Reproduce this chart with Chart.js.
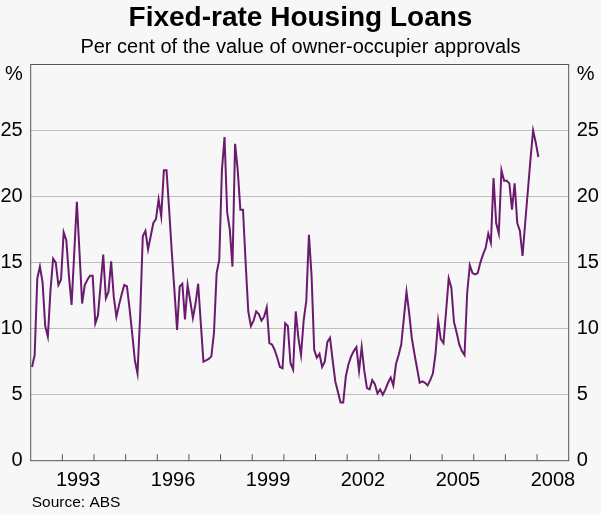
<!DOCTYPE html>
<html>
<head>
<meta charset="utf-8">
<title>Fixed-rate Housing Loans</title>
<script src="https://cdn.jsdelivr.net/npm/chart.js@4.4.1/dist/chart.umd.min.js"></script>
<style>
  html, body { margin: 0; padding: 0; background: #f7f7f7; }
  #chart_fixedRate { display: block; }
</style>
</head>
<body>
<canvas id="chart_fixedRate" width="601" height="515"></canvas>
<script>
// monthly series, first value is January 1992
const startYear = 1992;
const axisYears = [1992, 2009];
const yearLabels = [1993, 1996, 1999, 2002, 2005, 2008];
const yTicks = [0, 5, 10, 15, 20, 25];
const fixedShare = [
  7.1, 8.0, 13.8, 14.7, 13.5, 10.2, 9.4, 12.9, 15.3, 15.0, 13.3, 13.7,        // 1992
  17.3, 16.7, 14.0, 11.8, 15.7, 19.6, 15.8, 11.9, 13.3, 13.7, 14.0, 14.0,     // 1993
  10.4, 11.0, 13.3, 15.6, 12.3, 12.8, 15.1, 12.4, 10.9, 11.8, 12.6, 13.3,     // 1994
  13.2, 11.5, 9.6, 7.6, 6.6, 11.0, 17.0, 17.4, 16.0, 17.0, 18.0, 18.3,        // 1995
  19.8, 18.5, 22.0, 22.0, 19.0, 15.8, 12.9, 9.9, 13.2, 13.4, 10.7, 13.3,      // 1996
  12.1, 10.8, 11.9, 13.4, 10.4, 7.5, 7.6, 7.7, 7.9, 9.7, 14.2, 15.2,          // 1997
  22.0, 24.5, 18.8, 17.5, 14.7, 24.0, 22.0, 19.0, 19.0, 15.0, 11.3, 10.2,     // 1998
  10.6, 11.3, 11.1, 10.6, 10.9, 11.6, 8.9, 8.8, 8.4, 7.8, 7.1, 7.0,           // 1999
  10.4, 10.2, 7.4, 6.9, 11.3, 9.3, 8.0, 10.6, 12.1, 17.1, 14.0, 8.4,          // 2000
  7.8, 8.1, 7.1, 7.5, 9.0, 9.3, 7.6, 6.0, 5.2, 4.4, 4.4, 6.4,                 // 2001
  7.3, 7.9, 8.3, 8.6, 6.8, 8.6, 6.8, 5.5, 5.4, 6.1, 5.8, 5.1,                 // 2002
  5.4, 5.0, 5.4, 5.9, 6.3, 5.7, 7.3, 8.0, 8.8, 10.8, 12.8, 11.2,              // 2003
  9.3, 8.1, 7.0, 5.9, 6.0, 5.9, 5.7, 6.1, 6.6, 8.1, 10.6, 9.2,                // 2004
  8.9, 11.3, 13.8, 13.1, 10.5, 9.7, 8.8, 8.3, 8.0, 12.7, 14.8, 14.2,          // 2005
  14.1, 14.2, 15.0, 15.6, 16.1, 17.2, 16.5, 21.4, 18.0, 17.2, 22.0, 21.2,     // 2006
  21.2, 21.0, 19.0, 21.0, 18.0, 17.4, 15.5, 18.0, 20.4, 22.8, 25.0, 24.1,     // 2007
  23.0                                                                        // 2008
];
const percentTick = 29.27; // where the "%" unit label sits on both y axes

Chart.defaults.font.family = '"Liberation Sans", Arial, Helvetica, sans-serif';
Chart.defaults.color = '#000';

const axisColor = '#555555';
const gridGrey = '#bdbdbd';

const points = fixedShare.map((v, i) => ({ x: startYear + (i + 0.5) / 12, y: v }));

function buildYTicks(scale) {
  scale.ticks = yTicks.map(v => ({ value: v })).concat([{ value: percentTick }]);
}

function yLabel(value) {
  return value > 26 ? '%' : value;
}

// box around the plot, small inward year ticks and the source note
const frameAndTicks = {
  id: 'frameAndTicks',
  afterDatasetsDraw(chart) {
    const ctx = chart.ctx;
    const area = chart.chartArea;
    const xs = chart.scales.x;
    ctx.save();
    ctx.strokeStyle = axisColor;
    ctx.lineWidth = 1;
    ctx.beginPath();
    for (let yr = Math.ceil(xs.min) + 1; yr < xs.max; yr++) {
      const px = xs.getPixelForValue(yr);
      ctx.moveTo(px, area.bottom);
      ctx.lineTo(px, area.bottom - 6.5);
    }
    ctx.stroke();
    ctx.strokeRect(area.left, area.top, area.right - area.left, area.bottom - area.top);

    ctx.fillStyle = '#000';
    ctx.font = '15.5px "Liberation Sans", Arial, sans-serif';
    ctx.textAlign = 'left';
    ctx.textBaseline = 'middle';
    ctx.fillText('Source: ABS', area.left + 1, area.bottom + 42);
    ctx.restore();
  }
};

new Chart(document.getElementById('chart_fixedRate'), {
  type: 'line',
  data: {
    datasets: [{
      label: 'Fixed-rate share',
      data: points,
      borderColor: '#6a1b6e',
      borderWidth: 2,
      pointRadius: 0,
      tension: 0,
      fill: false
    }]
  },
  options: {
    responsive: false,
    animation: false,
    layout: { padding: 0 },
    scales: {
      x: {
        type: 'linear',
        min: axisYears[0],
        max: axisYears[1],
        afterBuildTicks: scale => {
          scale.ticks = yearLabels.map(y => ({ value: y + 0.5 }));
        },
        afterFit: scale => { scale.height = 54.3; },
        ticks: {
          autoSkip: false,
          maxRotation: 0,
          padding: 7.3,
          font: { size: 20 },
          callback: value => Math.floor(value)
        },
        grid: { display: false, drawTicks: false },
        border: { display: false }
      },
      y: {
        position: 'left',
        min: 0,
        max: 30,
        afterBuildTicks: buildYTicks,
        afterFit: scale => { scale.width = 30.7; },
        ticks: { padding: 8, font: { size: 20 }, callback: yLabel },
        grid: {
          drawTicks: false,
          lineWidth: 1,
          color: ctx => (ctx.tick && ctx.tick.value > 0 && ctx.tick.value < 26) ? gridGrey : 'rgba(0,0,0,0)'
        },
        border: { display: false }
      },
      y2: {
        position: 'right',
        min: 0,
        max: 30,
        afterBuildTicks: buildYTicks,
        afterFit: scale => { scale.width = 32.3; },
        ticks: { padding: 8, font: { size: 20 }, callback: yLabel },
        grid: { drawOnChartArea: false, drawTicks: false },
        border: { display: false }
      }
    },
    plugins: {
      legend: { display: false },
      tooltip: { enabled: false },
      title: {
        display: true,
        text: 'Fixed-rate Housing Loans',
        color: '#000',
        font: { size: 28, weight: 'bold' },
        padding: { top: 1.5, bottom: 0 }
      },
      subtitle: {
        display: true,
        text: 'Per cent of the value of owner-occupier approvals',
        color: '#000',
        font: { size: 20 },
        padding: { top: 0.5, bottom: 4.9 }
      }
    }
  },
  plugins: [frameAndTicks]
});
</script>
</body>
</html>
